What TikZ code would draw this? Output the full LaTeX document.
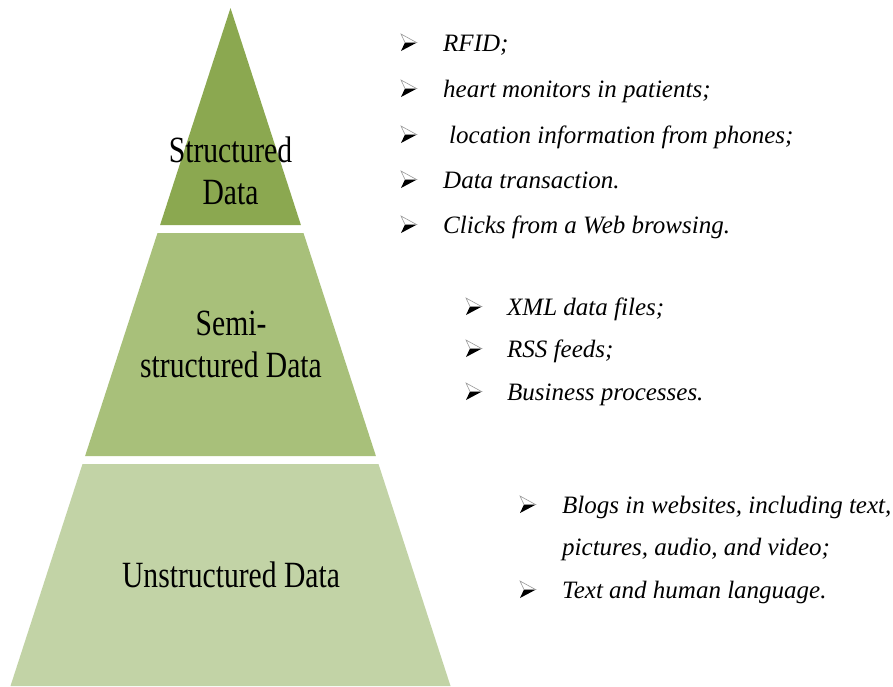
\documentclass[tikz,border=0pt]{standalone}
\usepackage{fontspec}
\setmainfont{Liberation Serif}
\definecolor{lvlA}{RGB}{139,168,80}
\definecolor{lvlB}{RGB}{168,192,122}
\definecolor{lvlC}{RGB}{194,211,166}
\tikzset{
  lvllabel/.style={align=center, xscale=0.8, font=\fontsize{37}{42}\selectfont, inner sep=0pt},
  itemtext/.style={anchor=base west, align=left, inner sep=0pt, font=\fontsize{25}{42}\selectfont\itshape},
  bulletdark/.style={fill=black},
  bulletlight/.style={fill=white, draw=gray!80, line width=0.6pt, line join=miter}
}
\newcommand\arrowbullet[2]{%
  \coordinate (#1) at (#2);
  \fill[bulletdark, shift={(#1)}] (5,-8.5) -- (17,-8.5) -- (1,0) -- cycle;
  \filldraw[bulletlight, shift={(#1)}] (1,-17) -- (16.5,-8.5) -- (5,-8.5) -- cycle;
}
\begin{document}
\begin{tikzpicture}[x=1pt,y=-1pt]
\useasboundingbox (0,0) rectangle (893,686);
\fill[white] (0,0) rectangle (893,686);
% pyramid levels
\fill[lvlA] (230.5,8) -- (300.9,225) -- (160.1,225) -- cycle;
\fill[lvlB] (157.5,233) -- (303.5,233) -- (375.9,456) -- (85.1,456) -- cycle;
\fill[lvlC] (82.5,464) -- (378.5,464) -- (450.5,686) -- (10.5,686) -- cycle;
% level labels
\node[lvllabel, anchor=base] (lblA) at (230.5,204) {Structured\\Data};
\node[lvllabel, anchor=base] (lblB) at (231,377) {Semi-\\structured Data};
\node[lvllabel, anchor=base] (lblC) at (231,587) {Unstructured Data};
% group 1
\arrowbullet{b11}{400,51}
\node[itemtext] (t11) at (443,51) {RFID;};
\arrowbullet{b12}{400,97}
\node[itemtext] (t12) at (443,97) {heart monitors in patients;};
\arrowbullet{b13}{400,143}
\node[itemtext] (t13) at (449,143) {location information from phones;};
\arrowbullet{b14}{400,188}
\node[itemtext] (t14) at (443,188) {Data transaction.};
\arrowbullet{b15}{400,233}
\node[itemtext] (t15) at (443,233) {Clicks from a Web browsing.};
% group 2
\arrowbullet{b21}{465,315}
\node[itemtext] (t21) at (507,315) {XML data files;};
\arrowbullet{b22}{465,357}
\node[itemtext] (t22) at (507,357) {RSS feeds;};
\arrowbullet{b23}{465,400}
\node[itemtext] (t23) at (507,400) {Business processes.};
% group 3
\arrowbullet{b31}{519,513}
\node[itemtext] (t31) at (562,513) {Blogs in websites, including text,};
\node[itemtext] (t32) at (562,555) {pictures, audio, and video;};
\arrowbullet{b32}{519,598}
\node[itemtext] (t33) at (562,598) {Text and human language.};
\end{tikzpicture}
\end{document}
